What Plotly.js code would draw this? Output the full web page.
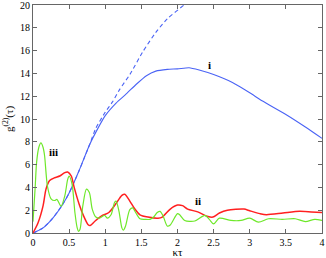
<!DOCTYPE html>
<html><head><meta charset="utf-8">
<script src="https://cdn.plot.ly/plotly-3.0.1.min.js"></script>
<style>html,body{margin:0;padding:0;background:#fff}</style>
</head><body><div id="chart" style="width:326px;height:258px"></div>
<script>
const blueX = [0,0.14,0.28,0.41,0.5,0.64,0.78,0.9,1.0,1.15,1.29,1.43,1.57,1.7,1.86,2.0,2.16,2.3,2.5,2.76,3.0,3.17,3.5,3.77,4.0];
const blueY = [0,0.45,1.35,2.5,3.5,5.5,7.7,9.2,10.3,11.4,12.2,13.05,13.8,14.2,14.35,14.4,14.5,14.3,13.9,13.2,12.3,11.6,10.4,9.3,8.3];
const dashX = [0,0.14,0.28,0.41,0.5,0.64,0.78,0.87,1.0,1.1,1.2,1.34,1.52,1.7,1.86,2.09,2.2];
const dashY = [0,0.45,1.35,2.5,3.5,5.5,7.7,9.2,10.6,11.5,12.6,13.9,15.9,17.6,18.8,20.0,20.6];
const redX = [0,0.07,0.14,0.18,0.23,0.3,0.37,0.44,0.48,0.53,0.57,0.64,0.7,0.76,0.79,0.86,0.95,1.05,1.14,1.23,1.27,1.34,1.41,1.48,1.59,1.73,1.79,1.9,2.0,2.07,2.14,2.28,2.42,2.49,2.58,2.69,2.92,3.0,3.14,3.23,3.46,3.69,3.85,4.0];
const redY = [0,0.9,2.4,3.85,4.6,4.85,5.0,5.3,5.35,5.0,4.0,2.5,1.5,0.75,0.65,1.05,1.5,1.8,2.5,3.3,3.4,2.8,2.1,1.6,1.4,1.3,1.4,2.1,2.45,2.4,2.1,1.85,1.45,1.4,1.75,2.0,2.1,1.95,1.7,1.6,1.75,1.9,1.85,1.8];
const greenX = [0,0.03,0.05,0.08,0.11,0.14,0.16,0.2,0.25,0.3,0.33,0.37,0.39,0.44,0.48,0.5,0.54,0.58,0.61,0.63,0.65,0.69,0.74,0.78,0.82,0.87,0.92,0.99,1.03,1.08,1.13,1.15,1.19,1.23,1.25,1.28,1.34,1.38,1.42,1.48,1.55,1.62,1.67,1.72,1.76,1.8,1.86,1.9,2.0,2.03,2.1,2.24,2.38,2.44,2.5,2.58,2.74,2.88,3.0,3.12,3.26,3.45,3.63,3.77,3.9,4.0];
const greenY = [1.0,4.0,6.2,7.5,7.9,7.5,6.8,4.1,3.0,2.85,2.95,2.5,2.35,3.25,4.7,5.0,4.3,1.8,0.5,0.15,0.3,2.4,3.85,3.55,2.1,1.4,1.3,1.55,1.3,1.6,2.7,2.8,1.9,0.45,0.25,0.6,2.05,2.2,1.8,1.25,1.2,1.2,1.4,1.8,1.9,1.5,0.6,0.7,1.7,1.6,1.1,1.05,1.55,1.2,0.8,1.3,1.1,1.1,1.3,0.95,1.25,1.2,1.25,1.0,1.2,1.1];
const labels = ['i','ii','iii'];
const labelX = [2.44,2.29,0.28];
const labelY = [14.75,2.8,7.1];

const font = 'Times New Roman';
const traces = [
  {x: dashX, y: dashY, mode:'lines', line:{color:'#4a63f5', width:1.1, dash:'4px,3px', shape:'spline', smoothing:0.6}},
  {x: blueX, y: blueY, mode:'lines', line:{color:'#4a63f5', width:1.1, shape:'spline', smoothing:0.6}},
  {x: redX, y: redY, mode:'lines', line:{color:'#ff2020', width:1.5, shape:'spline', smoothing:0.7}},
  {x: greenX, y: greenY, mode:'lines', line:{color:'#6ee82a', width:1.2, shape:'spline', smoothing:0.8}}
];
const axisCommon = {showline:true, mirror:'ticks', ticks:'inside', ticklen:4, linecolor:'#666', linewidth:1, tickcolor:'#666', showgrid:false, zeroline:false, ticklabeloverflow:'allow', tickfont:{family:font, size:10, color:'#000'}};
const layout = {
  width:326, height:258, margin:{l:33, r:4, t:5, b:25},
  paper_bgcolor:'#fff', plot_bgcolor:'#fff', showlegend:false,
  xaxis: Object.assign({}, axisCommon, {range:[0,4.0001], dtick:0.5, tick0:0, title:{text:'κτ', font:{family:font, size:11, color:'#000'}, standoff:3}}),
  yaxis: Object.assign({}, axisCommon, {range:[0,20.001], dtick:2, tick0:0, title:{text:'g<sup>(2)</sup>(τ)', font:{family:font, size:11, color:'#000'}, standoff:4}}),
  annotations: labels.map((t,i)=>({x:labelX[i], y:labelY[i], text:'<b>'+t+'</b>', showarrow:false, font:{family:font, size:11, color:'#000'}}))
};
Plotly.newPlot('chart', traces, layout, {displayModeBar:false, staticPlot:true});
</script></body></html>
